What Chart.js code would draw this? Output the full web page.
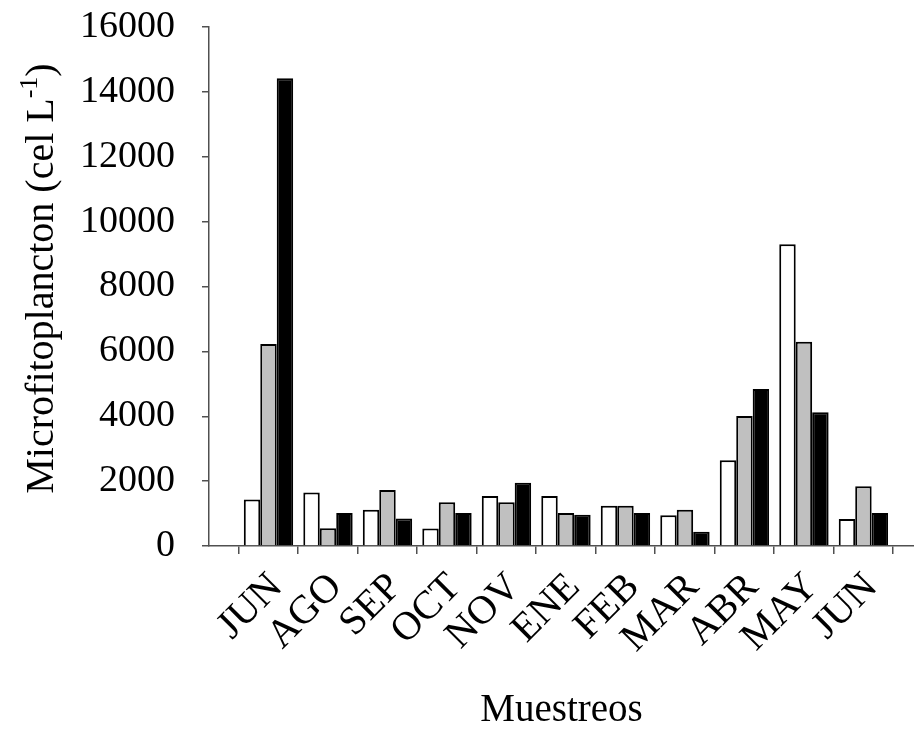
<!DOCTYPE html>
<html>
<head>
<meta charset="utf-8">
<script src="https://cdn.jsdelivr.net/npm/chart.js@4/dist/chart.umd.min.js"></script>
<style>
  html, body { margin: 0; padding: 0; background: #fff; overflow: hidden; }
  canvas { display: block; }
</style>
</head>
<body>
<canvas id="grafico" width="914" height="734"></canvas>
<script>
// meses de muestreo y abundancias (cel L-1) por serie
const muestreos = ["JUN", "AGO", "SEP", "OCT", "NOV", "ENE", "FEB", "MAR", "ABR", "MAY", "JUN"];
const serieBlanca = [1430, 1650, 1120, 540, 1540, 1540, 1240, 950, 2640, 9300, 830];
const serieGris = [6230, 550, 1730, 1350, 1350, 1020, 1240, 1120, 4010, 6300, 1840];
const serieNegra = [14420, 1020, 850, 1020, 1950, 960, 1020, 440, 4840, 4120, 1020];

const yMin = 0;
const yMax = 16000;
const yPaso = 2000;

const fuente = "'Liberation Serif', 'Times New Roman', serif";
const colorEje = "#505050";

// posiciones 1..n en un eje lineal, la 0 queda vacía junto al eje Y
const aPuntos = valores => valores.map((v, i) => ({ x: i + 1, y: v }));

// título del eje Y con el exponente -1 en superíndice
const tituloY = {
    id: "tituloY",
    afterDraw(chart) {
        const c = chart.ctx;
        const area = chart.chartArea;
        const texto = "Microfitoplancton (cel L";
        const sup = "-1";
        const cierre = ")";
        const fBase = "40px " + fuente;
        const fSup = "26px " + fuente;

        c.save();
        c.font = fBase;
        const w1 = c.measureText(texto).width;
        const w3 = c.measureText(cierre).width;
        c.font = fSup;
        const w2 = c.measureText(sup).width;

        c.translate(53, (area.top + area.bottom) / 2 - 8);
        c.rotate(-Math.PI / 2);
        c.fillStyle = "#000";
        c.textAlign = "left";
        c.textBaseline = "alphabetic";

        let x = -(w1 + w2 + w3) / 2;
        c.font = fBase;
        c.fillText(texto, x, 0);
        x += w1;
        c.font = fSup;
        c.fillText(sup, x, -16);
        x += w2;
        c.font = fBase;
        c.fillText(cierre, x, 0);
        c.restore();
    }
};

const conjunto = (datos, relleno) => ({
    data: aPuntos(datos),
    backgroundColor: relleno,
    borderColor: "#000",
    borderWidth: 2,
    categoryPercentage: 0.83,
    barPercentage: 1.0
});

new Chart(document.getElementById("grafico"), {
    type: "bar",
    data: {
        datasets: [
            conjunto(serieBlanca, "#ffffff"),
            conjunto(serieGris, "#c0c0c0"),
            conjunto(serieNegra, "#000000")
        ]
    },
    options: {
        responsive: false,
        animation: false,
        devicePixelRatio: 1,
        layout: { padding: { top: 27, right: 0, bottom: 0, left: 0 } },
        plugins: {
            legend: { display: false },
            tooltip: { enabled: false }
        },
        scales: {
            x: {
                type: "linear",
                offset: false,
                min: 0,
                max: 11.85,
                afterFit: scale => { scale.height = 188; },
                border: { color: colorEje, width: 1.5 },
                grid: { drawOnChartArea: false, tickLength: 8, color: colorEje, lineWidth: 1.5 },
                ticks: {
                    stepSize: 1,
                    includeBounds: false,
                    autoSkip: false,
                    maxRotation: 45,
                    minRotation: 45,
                    padding: 10,
                    labelOffset: 8,
                    color: "#000",
                    font: { family: fuente, size: 40 },
                    callback: v => muestreos[v - 1] || ""
                },
                title: {
                    display: true,
                    text: "Muestreos",
                    color: "#000",
                    font: { family: fuente, size: 39 },
                    padding: { top: 0, bottom: 0 }
                }
            },
            y: {
                min: yMin,
                max: yMax,
                afterFit: scale => {
                    scale.width = 209;
                    scale.paddingTop = 0;
                    scale.paddingBottom = 0;
                },
                border: { color: colorEje, width: 1.5 },
                grid: { drawOnChartArea: false, tickLength: 7, color: colorEje, lineWidth: 1.5 },
                ticks: {
                    stepSize: yPaso,
                    padding: 27,
                    color: "#000",
                    font: { family: fuente, size: 38 },
                    callback: v => String(v)
                }
            }
        }
    },
    plugins: [tituloY]
});
</script>
</body>
</html>
